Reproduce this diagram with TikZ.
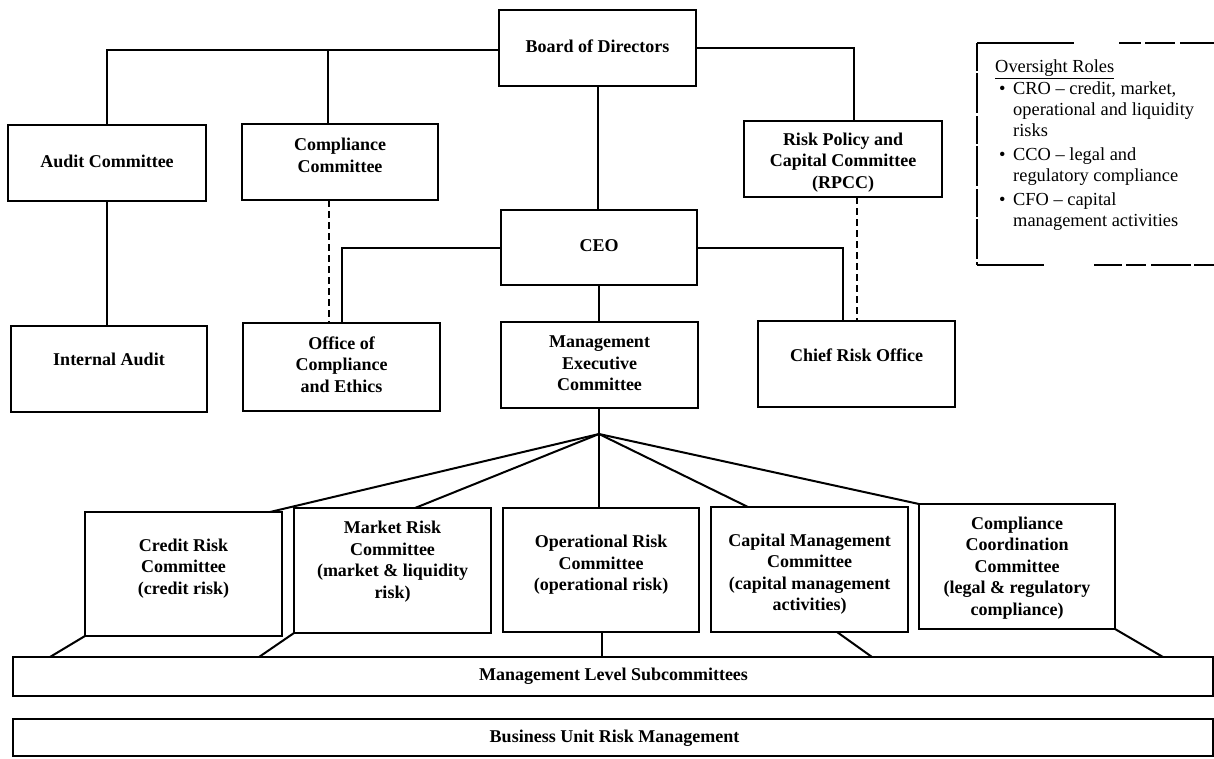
\documentclass[tikz,border=0pt]{standalone}
\usepackage{fontspec}
\setmainfont{Liberation Serif}
\begin{document}
\begin{tikzpicture}[x=1pt,y=-1pt,
  box/.style={draw, line width=2.3pt, inner sep=0pt, outer sep=0pt},
  lbl/.style={font=\bfseries\fontsize{18}{21.5}\selectfont, align=center, inner sep=0pt},
  conn/.style={line width=2pt},
  dsh/.style={line width=2pt, dash pattern=on 7pt off 4pt},
  frame/.style={line width=1.4pt}]
\useasboundingbox (0,0) rectangle (1214,758);
% ---------- boxes ----------
\node[box, minimum width=197pt, minimum height=76pt] (board) at (597.5,48) {};
\node[box, minimum width=198pt, minimum height=76pt] (audit) at (107,163) {};
\node[box, minimum width=196pt, minimum height=76pt] (compc) at (340,162) {};
\node[box, minimum width=198pt, minimum height=76pt] (rpcc) at (843,159) {};
\node[box, minimum width=196pt, minimum height=75pt] (ceo) at (599,247.5) {};
\node[box, minimum width=196pt, minimum height=86pt] (internal) at (109,369) {};
\node[box, minimum width=197pt, minimum height=88pt] (office) at (341.5,367) {};
\node[box, minimum width=197pt, minimum height=86pt] (mgmt) at (599.5,365) {};
\node[box, minimum width=197pt, minimum height=86pt] (cro) at (856.5,364) {};
\node[box, minimum width=197pt, minimum height=124pt] (credit) at (183.5,574) {};
\node[box, minimum width=197pt, minimum height=125pt] (market) at (392.5,570.5) {};
\node[box, minimum width=196pt, minimum height=124pt] (oprisk) at (601,570) {};
\node[box, minimum width=197pt, minimum height=125pt] (capital) at (809.5,569.5) {};
\node[box, minimum width=196pt, minimum height=125pt] (ccc) at (1017,566.5) {};
\node[box, minimum width=1200pt, minimum height=39pt] (mls) at (613,676.5) {};
\node[box, minimum width=1200pt, minimum height=37pt] (burm) at (613,737.5) {};
% ---------- labels ----------
\node[lbl] (board-t) at (597.5,46) {Board of Directors};
\node[lbl] (audit-t) at (107,161) {Audit Committee};
\node[lbl] (compc-t) at (340,155.5) {Compliance\\Committee};
\node[lbl] (rpcc-t) at (843,162.5) {Risk Policy and\\Capital Committee\\(RPCC)};
\node[lbl] (ceo-t) at (599,246) {CEO};
\node[lbl] (internal-t) at (109,359.5) {Internal Audit};
\node[lbl] (office-t) at (341.5,364.5) {Office of\\Compliance\\and Ethics};
\node[lbl] (mgmt-t) at (599.5,363.5) {Management\\Executive\\Committee};
\node[lbl] (cro-t) at (856.5,355.5) {Chief Risk Office};
\node[lbl] (credit-t) at (183.5,568.5) {Credit Risk\\Committee\\(credit risk)};
\node[lbl] (market-t) at (392.5,561.5) {Market Risk\\Committee\\(market \& liquidity\\risk)};
\node[lbl] (oprisk-t) at (601,565) {Operational Risk\\Committee\\(operational risk)};
\node[lbl] (capital-t) at (809.5,574) {Capital Management\\Committee\\(capital management\\activities)};
\node[lbl] (ccc-t) at (1017,568) {Compliance\\Coordination\\Committee\\(legal \& regulatory\\compliance)};
\node[lbl] (mls-t) at (613.5,676) {Management Level Subcommittees};
\node[lbl] (burm-t) at (614.5,738) {Business Unit Risk Management};
% ---------- connectors ----------
\coordinate (j1) at (328,50);
\coordinate (apex) at (599,434);
\draw[conn] ([yshift=-2pt]board.west) -| (audit.north);
\draw[conn] (j1) -- (j1 |- compc.north);
\draw[conn] (board.east) -| ([xshift=11pt]rpcc.north);
\draw[conn] (board.south) -- (board.south |- ceo.north);
\draw[conn] (audit.south) -- (audit.south |- internal.north);
\draw[dsh] ([xshift=-11pt]compc.south) -- ([xshift=-11pt]compc.south |- office.north);
\draw[dsh] (cro.north |- rpcc.south) -- (cro.north);
\draw[conn] (ceo.west) -| (office.north);
\draw[conn] (ceo.east) -| ([xshift=-13.5pt]cro.north);
\draw[conn] (ceo.south) -- (ceo.south |- mgmt.north);
\draw[conn] (mgmt.south -| apex) -- (apex);
\draw[conn] (apex) -- ([xshift=-12pt]credit.north east);
\draw[conn] (apex) -- ([xshift=22.5pt]market.north);
\draw[conn] (apex) -- (apex |- oprisk.north);
\draw[conn] (apex) -- ([xshift=37pt]capital.north west);
\draw[conn] (apex) -- (ccc.north west);
\draw[conn] (credit.south west) -- ([xshift=37pt]mls.north west);
\draw[conn] (market.south west) -- ([xshift=246pt]mls.north west);
\draw[conn] ([xshift=1pt]oprisk.south) -- ([xshift=1pt]oprisk.south |- mls.north);
\draw[conn] ([xshift=126pt]capital.south west) -- ([xshift=859pt]mls.north west);
\draw[conn] (ccc.south east) -- ([xshift=-50pt]mls.north east);
% ---------- oversight roles ----------
\draw[frame, dash pattern=on 97pt off 45pt on 22pt off 4pt on 30pt off 5pt on 40pt off 3pt] (977,43) -- (1216,43);
\draw[frame, dash pattern=on 67pt off 50pt on 28pt off 4pt on 20pt off 5pt on 40pt off 3pt] (977,265) -- (1216,265);
\draw[frame, dash pattern=on 28pt off 2pt on 40pt off 3pt] (977,43) -- (977,265);
\node[anchor=north west, inner sep=0pt, font=\fontsize{18.4}{20.8}\selectfont] (roles) at (995,58)
{\begin{tabular}{@{}p{18pt}@{}l@{}}
\multicolumn{2}{@{}l@{}}{\underline{Oversight Roles}}\\[1pt]
\hspace{4pt}\textbullet & CRO -- credit, market,\\
 & operational and liquidity\\
 & risks\\[3.5pt]
\hspace{4pt}\textbullet & CCO -- legal and\\
 & regulatory compliance\\[3.5pt]
\hspace{4pt}\textbullet & CFO -- capital\\
 & management activities
\end{tabular}};
\end{tikzpicture}
\end{document}
